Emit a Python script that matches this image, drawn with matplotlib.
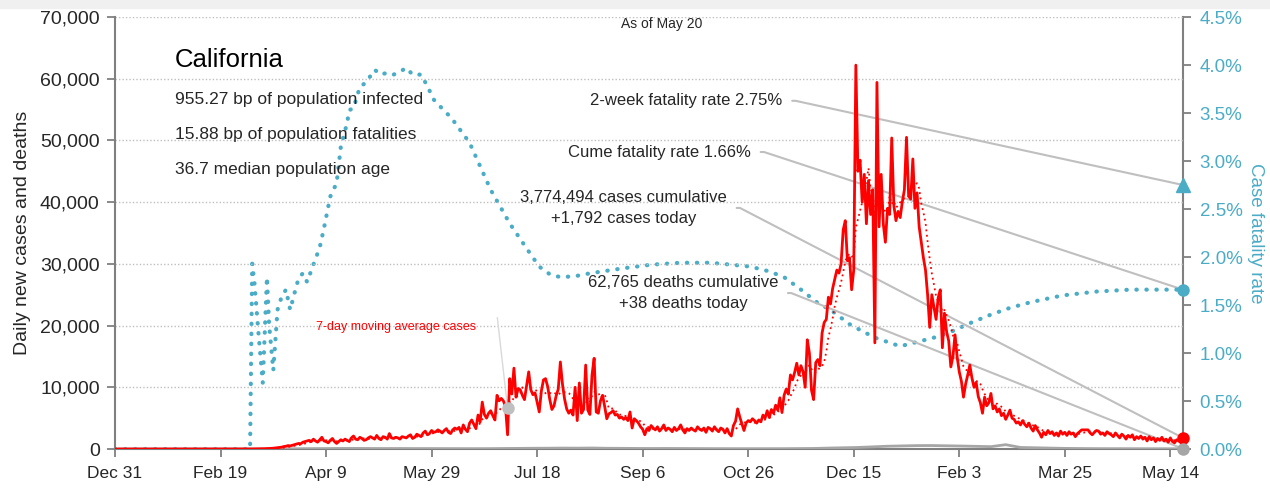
import numpy as np
import pandas as pd
import matplotlib
matplotlib.use("Agg")
import matplotlib.pyplot as plt
from matplotlib.patches import Rectangle

plt.rcParams['font.family'] = ['Liberation Sans', 'DejaVu Sans']

START = '2019-12-31'
END = '2021-05-20'

# daily new cases, thousands (Dec 31 2019 .. Feb 29 2020 = no cases)
cases_pre = [0.0] * 61
cases_2020_03 = [0.00, 0.00, 0.01, 0.01, 0.01, 0.02, 0.02, 0.03, 0.03, 0.04, 0.05, 0.07, 0.08, 0.10, 0.13, 0.17,
                 0.20, 0.25, 0.30, 0.40, 0.45, 0.55, 0.50, 0.60, 0.70, 0.80, 0.90, 0.85, 1.10, 1.20, 1.30]
cases_2020_04 = [1.4, 1.2, 1.6, 1.3, 1.1, 1.5, 1.9, 1.3, 1.2, 1.0, 1.4, 1.7, 1.2, 0.9, 1.2, 1.5, 1.3, 1.6, 1.4, 1.2,
                 1.8, 2.1, 1.6, 1.5, 1.9, 1.7, 1.4, 1.5, 1.8, 2.0]
cases_2020_05 = [1.8, 1.6, 2.2, 1.7, 1.5, 2.0, 1.9, 1.6, 2.5, 1.8, 1.7, 1.9, 1.8, 1.6, 2.0, 1.9, 1.8, 2.1, 2.3, 1.7,
                 1.9, 2.4, 2.2, 2.0, 2.6, 2.9, 2.3, 2.5, 3.0, 2.7, 2.8]
cases_2020_06 = [3.1, 2.9, 2.6, 3.0, 3.3, 2.7, 2.5, 3.1, 3.4, 3.2, 3.5, 2.6, 3.9, 3.2, 2.8, 4.2, 4.7, 4.0, 3.3, 5.5,
                 4.4, 7.6, 5.6, 5.0, 5.8, 6.2, 5.4, 4.7, 8.7, 7.8]
cases_2020_07 = [8.2, 7.8, 6.9, 2.3, 11.4, 8.9, 13.1, 8.4, 9.8, 9.6, 8.7, 8.0, 10.3, 12.5, 9.6, 8.8, 9.1, 7.6, 6.0,
                 9.4, 11.2, 11.4, 10.1, 8.0, 6.4, 7.0, 8.6, 9.7, 14.1, 10.5, 8.1]
cases_2020_08 = [6.5, 5.8, 6.3, 5.5, 10.0, 4.6, 10.7, 5.8, 6.4, 13.6, 6.3, 5.6, 12.0, 14.7, 6.0, 5.8, 7.8, 8.7, 6.9,
                 4.9, 5.7, 5.9, 6.2, 5.5, 5.6, 5.0, 5.2, 4.8, 5.1, 4.6, 6.0]
cases_2020_09 = [3.4, 4.9, 4.6, 4.2, 3.6, 3.2, 2.3, 3.3, 3.0, 3.8, 3.4, 3.1, 3.6, 2.9, 3.3, 3.9, 3.0, 3.4, 3.2, 2.8,
                 3.5, 3.0, 3.3, 3.9, 3.1, 2.6, 3.3, 3.0, 3.4, 3.1]
cases_2020_10 = [2.9, 3.6, 3.2, 3.0, 3.4, 2.7, 3.5, 3.3, 2.9, 3.6, 3.1, 2.8, 3.4, 3.2, 2.6, 3.3, 2.5, 2.1, 3.8, 4.5,
                 6.5, 5.2, 4.1, 3.0, 4.2, 4.6, 4.4, 4.9, 4.6, 4.2, 4.7]
cases_2020_11 = [4.4, 5.5, 5.0, 6.2, 5.1, 6.4, 5.8, 7.1, 6.3, 8.3, 5.9, 8.7, 9.7, 8.9, 12.0, 11.2, 12.4, 13.9, 12.0,
                 13.5, 12.5, 10.0, 17.7, 15.5, 9.5, 8.0, 14.0, 14.5, 13.5, 18.8]
cases_2020_12 = [20.5, 21.0, 24.6, 23.5, 26.0, 27.5, 29.0, 28.5, 30.0, 35.5, 37.0, 30.5, 31.0, 25.8, 29.0, 62.2,
                 45.0, 46.8, 40.0, 44.5, 36.5, 43.5, 38.0, 42.0, 17.2, 59.4, 36.0, 44.5, 36.5, 33.5, 39.0]
cases_2021_01 = [38.0, 50.4, 39.5, 37.0, 38.5, 37.5, 40.0, 42.0, 50.5, 41.0, 40.5, 47.0, 39.0, 41.5, 36.0, 33.5,
                 31.0, 29.0, 25.0, 19.7, 25.0, 23.0, 21.0, 24.5, 25.8, 16.4, 22.0, 19.0, 17.5, 13.3, 15.0]
cases_2021_02 = [18.5, 14.9, 12.5, 11.0, 8.4, 10.5, 12.0, 13.6, 11.5, 10.0, 10.8, 8.5, 7.5, 5.8, 8.4, 7.0, 7.5, 9.0,
                 6.5, 7.0, 6.0, 6.5, 5.4, 5.8, 4.8, 5.5, 6.3, 5.0]
cases_2021_03 = [4.8, 4.2, 4.4, 3.9, 4.6, 4.0, 3.6, 4.2, 3.4, 2.9, 3.8, 3.1, 2.6, 1.9, 2.7, 2.3, 3.0, 2.5, 2.8, 2.2,
                 2.6, 2.1, 2.9, 2.4, 2.7, 2.2, 2.8, 2.4, 2.6, 2.0, 2.5]
cases_2021_04 = [2.8, 3.1, 3.1, 3.1, 3.1, 2.6, 2.3, 2.7, 3.0, 2.9, 2.4, 2.6, 2.2, 2.8, 2.5, 2.3, 2.0, 2.6, 2.2, 1.8,
                 2.4, 2.1, 1.6, 2.2, 1.9, 2.3, 1.5, 2.0, 1.7, 2.1]
cases_2021_05 = [1.6, 1.9, 1.3, 2.0, 1.5, 1.8, 1.2, 1.7, 1.4, 1.9, 1.3, 1.6, 1.1, 1.8, 1.2, 1.0, 1.5, 1.3, 1.1, 1.792]

# daily deaths, every 7 days ending May 20 2021
deaths_weekly = [0, 0, 0, 0, 0, 0, 0, 0, 0,
                 1, 5, 20, 40, 60, 70, 90, 95, 80, 75, 80, 70, 70, 65, 60, 55, 60, 80, 100, 120, 130, 150,
                 140, 160, 120, 110, 90, 80, 90, 80, 70, 60, 55, 50, 50, 50, 55, 70, 90, 150, 200, 250, 350,
                 450, 500, 550, 560, 520, 480, 430, 380, 700, 250, 200, 150, 100, 80, 60, 50, 50, 45, 40, 40, 38]

# case fatality rate (%), days after Dec 31 2019
cfr_days = [0, 64, 65, 66, 68, 70, 72, 73, 75, 77, 79, 81, 83, 85, 87, 89, 91, 94, 96, 97, 99, 102, 105, 107,
            110, 111, 113, 116, 119, 123, 126, 129, 132, 135, 138, 141, 145, 148, 151, 157, 159, 168, 178, 187,
            195, 201, 206, 211, 218, 225, 240, 254, 268, 282, 292, 301, 310, 317, 325, 333, 339, 348, 353, 360,
            372, 388, 396, 405, 415, 424, 434, 449, 465, 481, 506]
cfr_pct = [0, 0, 1.93, 1.75, 1.2, 0.69, 1.79, 1.3, 0.82, 1.45, 1.59, 1.66, 1.45, 1.62, 1.78, 1.83, 1.74, 1.92,
           2.04, 2.1, 2.3, 2.63, 2.77, 3.15, 3.40, 3.53, 3.55, 3.77, 3.82, 3.95, 3.9, 3.92, 3.90, 3.93, 3.97, 3.90,
           3.9, 3.78, 3.64, 3.50, 3.46, 3.19, 2.70, 2.35, 2.09, 1.9, 1.82, 1.79, 1.80, 1.83, 1.88, 1.92, 1.94,
           1.94, 1.92, 1.90, 1.85, 1.79, 1.66, 1.52, 1.45, 1.30, 1.24, 1.16, 1.07, 1.16, 1.22, 1.31, 1.40, 1.47,
           1.53, 1.60, 1.64, 1.66, 1.66]

two_week_cfr = 2.75
cume_cfr = 1.66
cases_today = 1792
deaths_today = 38
ma_marker_date = '2020-07-04'

RED = '#FF0000'
BLUE = '#4BACC6'
GRAY = '#A6A6A6'
LINE = '#BFBFBF'
SPINE = '#808080'
TXT = '#262626'

dates = pd.date_range(START, END, freq='D')
cases = pd.Series(np.concatenate([cases_pre, cases_2020_03, cases_2020_04, cases_2020_05, cases_2020_06,
                                  cases_2020_07, cases_2020_08, cases_2020_09, cases_2020_10, cases_2020_11,
                                  cases_2020_12, cases_2021_01, cases_2021_02, cases_2021_03, cases_2021_04,
                                  cases_2021_05]) * 1000, index=dates)
cases_ma = cases.rolling(7, min_periods=1).mean()
death_dates = pd.date_range(end=END, periods=len(deaths_weekly), freq='7D')
cfr_dates = pd.Timestamp(START) + pd.to_timedelta(cfr_days, unit='D')
last = pd.Timestamp(END)

fig = plt.figure(figsize=(12.7, 4.91), dpi=100)
fig.patches.append(Rectangle((0, 0.984), 1, 0.016, transform=fig.transFigure, color='#F0F0F0', zorder=0))
ax = fig.add_axes([115 / 1270, 42 / 491, 1068 / 1270, 432 / 491])
ax2 = ax.twinx()

ax.plot(cases.index, cases.values, color=RED, lw=2, zorder=4)
ax.plot(cases_ma.index, cases_ma.values, color=RED, lw=1.3, ls=(0, (1, 2)), zorder=5)
ax.plot(death_dates, deaths_weekly, color=GRAY, lw=2, zorder=3)
ax2.plot(cfr_dates, cfr_pct, color=BLUE, lw=3, ls=(0, (0.1, 2.3)), dash_capstyle='round', zorder=3)

# end markers
ax.plot([last], [cases_today], 'o', color=RED, ms=8, clip_on=False, zorder=6)
ax.plot([last], [deaths_today], 'o', color=GRAY, ms=8, clip_on=False, zorder=6)
ax2.plot([last], [cume_cfr], 'o', color=BLUE, ms=8, clip_on=False, zorder=6)
ax2.plot([last], [two_week_cfr], '^', color=BLUE, ms=10, clip_on=False, zorder=6)
ax.plot([pd.Timestamp(ma_marker_date)], [cases_ma[ma_marker_date]], 'o', color='#BFBFBF', ms=8, zorder=7)

# axes
ax.set_xlim(pd.Timestamp(START), last)
ax.set_ylim(0, 70000)
ax2.set_ylim(0, 4.5)
ax.set_zorder(ax2.get_zorder() + 1)
ax.patch.set_visible(False)

xt = pd.date_range(START, periods=11, freq='50D')
ax.set_xticks(xt)
ax.set_xticklabels([f"{d:%b} {d.day}" for d in xt])
ax.set_yticks(np.arange(0, 70001, 10000))
ax.set_yticklabels([f"{v:,}" for v in range(0, 70001, 10000)])
ax2.set_yticks(np.arange(0, 4.51, 0.5))
ax2.set_yticklabels([f"{v:.1f}%" for v in np.arange(0, 4.51, 0.5)])

for a in (ax, ax2):
    a.spines['top'].set_visible(False)
    for s in ('left', 'right', 'bottom'):
        a.spines[s].set_color(SPINE)
        a.spines[s].set_linewidth(1.5)
ax.spines['right'].set_visible(False)
ax2.spines['left'].set_visible(False)
ax2.spines['bottom'].set_visible(False)

ax.tick_params(axis='y', colors=SPINE, labelcolor=TXT, labelsize=14, length=6, width=1.3, pad=5)
ax.tick_params(axis='x', colors=SPINE, labelcolor=TXT, labelsize=12.5, length=6, width=1.3, pad=6)
ax2.tick_params(axis='y', colors=SPINE, labelcolor=BLUE, labelsize=13.5, length=6, width=1.3, pad=6)
ax.grid(axis='y', color=LINE, ls=(0, (1, 1.5)), lw=1)
ax.get_ygridlines()[0].set_visible(False)

ax.set_ylabel('Daily new cases and deaths', fontsize=14, color=TXT, va='center')
ax.yaxis.set_label_coords(-0.087, 0.5)
ax2.set_ylabel('Case fatality rate', fontsize=13.5, color=BLUE, rotation=270, va='center')
ax2.yaxis.set_label_coords(1.068, 0.5)

# text block
ax.text(0.056, 0.90, 'California', transform=ax.transAxes, fontsize=18.5, color='black', va='center')
ax.text(0.056, 0.808, '955.27 bp of population infected', transform=ax.transAxes, fontsize=12.5, color=TXT,
        va='center')
ax.text(0.056, 0.727, '15.88 bp of population fatalities', transform=ax.transAxes, fontsize=12.5, color=TXT,
        va='center')
ax.text(0.056, 0.646, '36.7 median population age', transform=ax.transAxes, fontsize=12.5, color=TXT, va='center')
ax.text(0.512, 0.984, 'As of May 20', transform=ax.transAxes, fontsize=10, color=TXT, va='center', ha='center')

conn = 'arc,angleA=0,armA=13,angleB=0,armB=0,rad=0'
arrow = dict(arrowstyle='-', color=LINE, lw=1.5, relpos=(1, 0.5), connectionstyle=conn, shrinkA=5, shrinkB=0)

ax2.annotate(f'2-week fatality rate {two_week_cfr:.2f}%', xy=(last, two_week_cfr), xytext=(0.625, 0.806),
             textcoords='axes fraction', fontsize=12, color=TXT, ha='right', va='center', arrowprops=arrow, zorder=2)
ax2.annotate(f'Cume fatality rate {cume_cfr:.2f}%', xy=(last, cume_cfr), xytext=(0.5955, 0.6875),
             textcoords='axes fraction', fontsize=12, color=TXT, ha='right', va='center', arrowprops=arrow, zorder=2)
ax.annotate(f'3,774,494 cases cumulative\n+{cases_today:,} cases today', xy=(last, cases_today),
            xytext=(0.573, 0.558), textcoords='axes fraction', fontsize=12, color=TXT, ha='right', va='center',
            multialignment='center', linespacing=1.45, arrowprops=arrow, zorder=2)
ax.annotate(f'62,765 deaths cumulative\n+{deaths_today} deaths today', xy=(last, deaths_today),
            xytext=(0.621, 0.361), textcoords='axes fraction', fontsize=12, color=TXT, ha='right', va='center',
            multialignment='center', linespacing=1.45, arrowprops=arrow, zorder=2)

ax.text(0.338, 0.282, '7-day moving average cases', transform=ax.transAxes, fontsize=9, color=RED,
        ha='right', va='center')
ax.annotate('', xy=(pd.Timestamp(ma_marker_date), cases_ma[ma_marker_date]), xytext=(0.358, 0.304),
            textcoords='axes fraction', arrowprops=dict(arrowstyle='-', color='#D9D9D9', lw=1, shrinkA=0, shrinkB=0))

fig.savefig('out.png', dpi=100)
